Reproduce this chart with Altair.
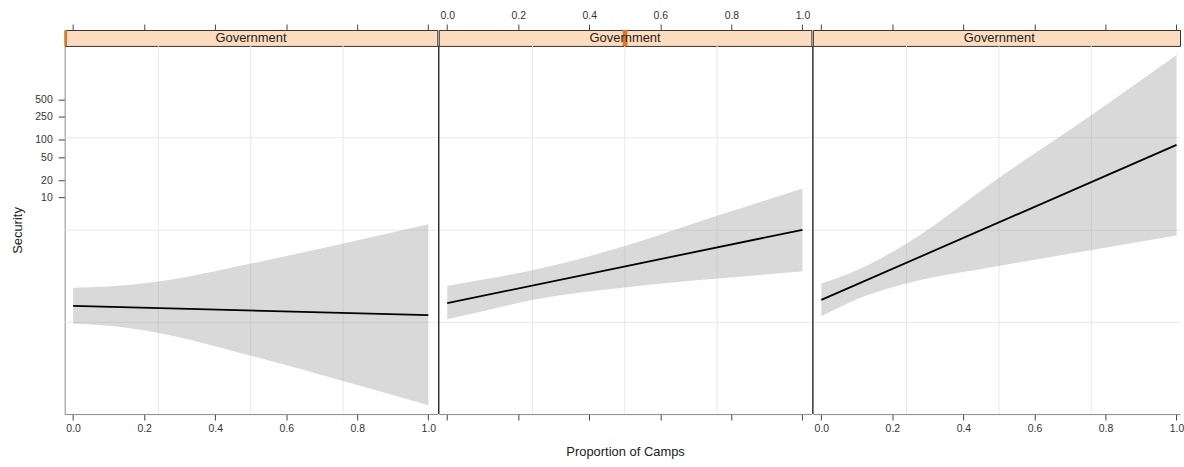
import altair as alt
import pandas as pd

# ---- values ---------------------------------------------------------------
# proportion of camps at which the confidence band was evaluated
camps = [0.0, 0.1, 0.24, 0.5, 0.77, 1.0]
fit_camps = [0.0, 1.0]

# panel 1 (moderator at its minimum)
fit_1 = [0.130, 0.0898]
lower_1 = [0.0635, 0.0586, 0.0439, 0.0177, 0.00615, 0.00242]
upper_1 = [0.267, 0.282, 0.344, 0.705, 1.63, 3.41]

# panel 2 (moderator at its middle)
fit_2 = [0.145, 2.73]
lower_2 = [0.0757, 0.105, 0.165, 0.271, 0.392, 0.512]
upper_2 = [0.288, 0.372, 0.540, 1.42, 5.02, 14.2]

# panel 3 (moderator at its maximum)
fit_3 = [0.165, 81.7]
lower_3 = [0.0853, 0.170, 0.318, 0.640, 1.245, 2.17]
upper_3 = [0.318, 0.540, 1.58, 21.9, 296, 2979]

strip_labels = ["Government", "Government", "Government"]
level_pos = [0.0, 0.5, 1.0]          # position of each panel's level in its strip

x_ticks = [0.0, 0.2, 0.4, 0.6, 0.8, 1.0]
y_ticks = [10, 20, 50, 100, 250, 500]
x_grid = [0.24, 0.50, 0.76]
y_grid = [109, 2.69, 0.0671]

# ---- layout ---------------------------------------------------------------
PANEL_W = 374.5
LAST_W = 369
PANEL_H = 370
STRIP_H = 16
X_DOM = [-0.0238, -0.0238 + PANEL_W / 357.0]
X_DOM_LAST = [-0.0238, -0.0238 + LAST_W / 357.0]
Y_DOM = [0.001706, 4295]

GRID = "#e8e8e8"
TICK = "#444444"
LABEL = "#333333"
TITLE = "#222222"


def column(idx, fit, lower, upper):
    last = idx == 2
    middle = idx == 1
    first = idx == 0
    width = LAST_W if last else PANEL_W
    xs = alt.Scale(domain=X_DOM_LAST if last else X_DOM, nice=False, zero=False)
    ys = alt.Scale(type="log", domain=Y_DOM, nice=False)
    fs = alt.Scale(domain=[0, width / PANEL_W], nice=False, zero=False)

    if first:
        yaxis = alt.Axis(values=y_ticks, format="d", title="Security", grid=False,
                         tickSize=6.5, labelPadding=6, titlePadding=10,
                         domainColor="#888888", tickColor=TICK, labelColor=LABEL,
                         labelFontSize=10.5, titleFontSize=13,
                         titleFontWeight="normal", titleColor=TITLE)
    else:
        yaxis = None

    bottom = alt.Axis(values=x_ticks, orient="bottom", grid=False, labels=not middle,
                      format=".1f", tickSize=6, labelPadding=4,
                      domainColor="#888888", tickColor=TICK, labelColor=LABEL,
                      labelFontSize=10.5,
                      title="Proportion of Camps" if middle else "",
                      titlePadding=25, titleFontSize=13, titleFontWeight="normal",
                      titleColor=TITLE)
    top = alt.Axis(values=x_ticks, orient="top", offset=STRIP_H, grid=False,
                   labels=middle, domain=False, format=".1f", tickSize=6,
                   labelPadding=4, tickColor=TICK, labelColor=LABEL,
                   labelFontSize=10.5, title="")

    band_df = pd.DataFrame({"camps": camps, "lower": lower, "upper": upper})
    fit_df = pd.DataFrame({"camps": fit_camps, "fit": fit})

    vgrid = alt.Chart(pd.DataFrame({"gx": x_grid})).mark_rule(
        color=GRID, strokeWidth=1).encode(x=alt.X("gx:Q", scale=xs, axis=top))
    hgrid = alt.Chart(pd.DataFrame({"gy": y_grid})).mark_rule(
        color=GRID, strokeWidth=1).encode(y=alt.Y("gy:Q", scale=ys, axis=yaxis))
    band = alt.Chart(band_df).mark_area(
        color="#a0a0a0", opacity=0.4, interpolate="monotone").encode(
        x=alt.X("camps:Q", scale=xs, axis=bottom),
        y=alt.Y("lower:Q", scale=ys, axis=yaxis),
        y2="upper:Q")
    line = alt.Chart(fit_df).mark_line(color="black", strokeWidth=1.8).encode(
        x=alt.X("camps:Q", scale=xs, axis=None),
        y=alt.Y("fit:Q", scale=ys, axis=yaxis))
    layers = [vgrid, hgrid, band, line]
    if not first:
        sep = alt.Chart(pd.DataFrame({"edge": ["left"]})).mark_rule(
            color="black", strokeWidth=1.2).encode(
            x=alt.value(0), y=alt.value(0), y2=alt.value("height"))
        layers.append(sep)

    plot = alt.layer(*layers).resolve_axis(x="independent").properties(
        width=width, height=PANEL_H,
        view=alt.ViewBackground(strokeWidth=0))

    lvl_df = pd.DataFrame({"level": [level_pos[idx]]})
    ind = alt.Chart(lvl_df).transform_calculate(
        lo="datum.level - 0.00625", hi="datum.level + 0.00625").mark_rect(
        color="#e8711e", clip=True).encode(
        x=alt.X("lo:Q", scale=fs, axis=None), x2="hi:Q",
        y=alt.value(0), y2=alt.value("height"))
    txt = alt.Chart(pd.DataFrame({"pos": [0.5], "label": [strip_labels[idx]]})).mark_text(
        fontSize=13, color=TITLE, baseline="middle").encode(
        x=alt.X("pos:Q", scale=fs, axis=None), y=alt.value(STRIP_H / 2),
        text="label:N")
    strip = alt.layer(ind, txt).properties(
        width=width, height=STRIP_H,
        view=alt.ViewBackground(fill="#fddcbd", stroke="#333333", strokeWidth=1))

    return alt.vconcat(strip, plot, spacing=0, bounds="flush")


cols = [column(0, fit_1, lower_1, upper_1),
        column(1, fit_2, lower_2, upper_2),
        column(2, fit_3, lower_3, upper_3)]

chart = alt.hconcat(*cols, spacing=0).properties(
    padding={"left": 11, "top": 9, "right": 0, "bottom": 0},
    background="white",
).configure(font="Liberation Sans")

chart.save("out.html", embed_options={"renderer": "svg", "actions": False})
